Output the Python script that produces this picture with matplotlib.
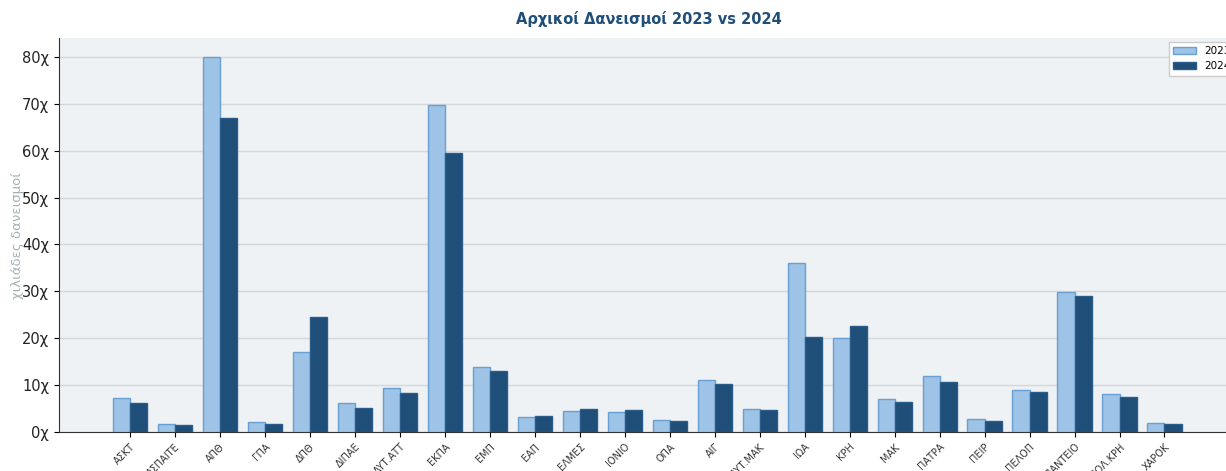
import numpy as np
import matplotlib.pyplot as plt

plt.rcParams['font.family'] = ['DejaVu Sans']

# Ιδρύματα και αρχικοί δανεισμοί (χιλιάδες)
idrymata = ['ΑΣΚΤ', 'ΑΣΠΑΙΤΕ', 'ΑΠΘ', 'ΓΠΑ', 'ΔΠΘ', 'ΔΙΠΑΕ', 'ΔΥΤ.ΑΤΤ', 'ΕΚΠΑ',
            'ΕΜΠ', 'ΕΑΠ', 'ΕΛΜΕΣ', 'ΙΟΝΙΟ', 'ΟΠΑ', 'ΑΙΓ', 'ΔΥΤ.ΜΑΚ', 'ΙΩΑ',
            'ΚΡΗ', 'ΜΑΚ', 'ΠΑΤΡΑ', 'ΠΕΙΡ', 'ΠΕΛΟΠ', 'ΠΑΝΤΕΙΟ', 'ΠΟΛ.ΚΡΗ', 'ΧΑΡΟΚ']
danismoi_2023 = [7.25, 1.7, 80.0, 2.1, 17.0, 6.2, 9.4, 69.7,
                 13.9, 3.1, 4.5, 4.2, 2.6, 11.0, 4.9, 36.0,
                 20.0, 7.1, 12.0, 2.8, 9.0, 29.9, 8.1, 1.9]
danismoi_2024 = [6.2, 1.5, 67.0, 1.7, 24.5, 5.2, 8.3, 59.5,
                 13.0, 3.4, 4.9, 4.6, 2.4, 10.2, 4.6, 20.3,
                 22.6, 6.3, 10.6, 2.3, 8.6, 29.0, 7.4, 1.8]
yticks = [0, 10, 20, 30, 40, 50, 60, 70, 80]

x = np.arange(len(idrymata))
w = 0.38

fig = plt.figure(figsize=(12.26, 4.71), dpi=100)
ax = fig.add_axes([0.0481, 0.0828, 0.963, 0.8362])
ax.set_facecolor('#eef2f4')

ax.bar(x - w / 2, danismoi_2023, w, color='#9dc3e6', edgecolor='#6a9fd4',
       linewidth=1, label='2023', zorder=3)
ax.bar(x + w / 2, danismoi_2024, w, color='#1f4e79', edgecolor='#2b5d8c',
       linewidth=1, label='2024', zorder=3)

ax.set_xlim(-1.58, 24.67)
ax.set_ylim(0, 84)
ax.set_yticks(yticks)
ax.set_yticklabels([f'{v}χ' for v in yticks], fontsize=10.5, color='#222222')
ax.set_xticks(x)
ax.set_xticklabels(idrymata, rotation=45, ha='right', rotation_mode='anchor',
                   fontsize=7, color='#333333')
ax.grid(axis='y', color='#d3d8dc', linewidth=1, zorder=0)

for s in ['top', 'right']:
    ax.spines[s].set_visible(False)
ax.spines['left'].set_color('#333333')
ax.spines['bottom'].set_color('#333333')

ax.set_ylabel('χιλιάδες δανεισμοί', fontsize=9.5, color='#a3b1b3')
ax.yaxis.set_label_coords(-0.030, 0.5)
ax.set_title('Αρχικοί Δανεισμοί 2023 vs 2024', fontsize=10.5, fontweight='bold',
             color='#1f4e79', pad=10)
ax.legend(loc='upper left', bbox_to_anchor=(1169 / 1226, 1 - 42 / 471),
          bbox_transform=fig.transFigure, borderaxespad=0, fontsize=7.5,
          handlelength=2.2, frameon=True, fancybox=False,
          edgecolor='#cccccc', framealpha=1)

fig.savefig('out.png', dpi=100)
